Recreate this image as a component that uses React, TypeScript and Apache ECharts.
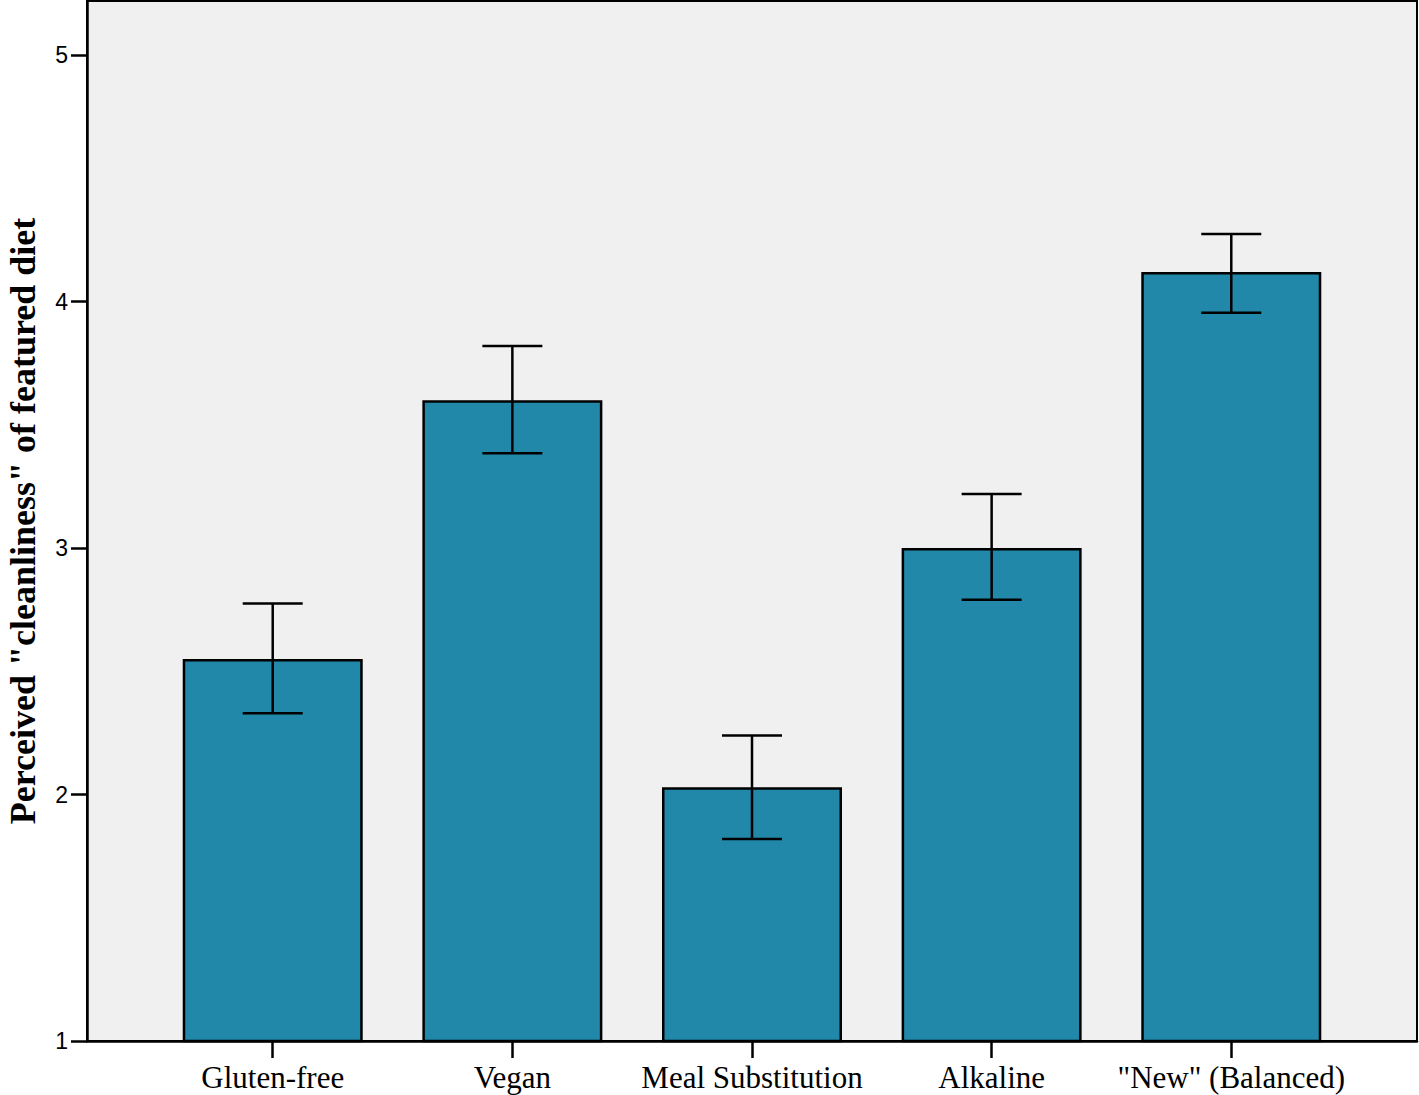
import React, { useEffect, useRef } from "react";
import * as echarts from "echarts";

const categories = ["Gluten-free", "Vegan", "Meal Substitution", "Alkaline", "\"New\" (Balanced)"];
const means = [2.55, 3.60, 2.03, 3.00, 4.12];
const upper = [2.775, 3.82, 2.24, 3.22, 4.275];
const lower = [2.33, 3.385, 1.82, 2.79, 3.955];
const yTicks = [1, 2, 3, 4, 5];
const yAxisTitle = "Perceived \"cleanliness\" of featured diet";

export default function App() {
  const ref = useRef<HTMLDivElement>(null);
  useEffect(() => {
    if (!ref.current) return;
    const chart = echarts.init(ref.current, null, { renderer: "svg" });
    const xPos = categories.map((_, i) => i + 1);
    const barData = means.map((v, i) => [xPos[i], v]);
    const errData = means.map((_, i) => [xPos[i], lower[i], upper[i]]);
    chart.setOption({
      animation: false,
      backgroundColor: "#ffffff",
      grid: {
        left: 87,
        right: 2,
        top: 1,
        bottom: 54,
        containLabel: false,
        outerBoundsMode: "none",
        show: true,
        backgroundColor: "#f0f0f0",
        borderColor: "#000000",
        borderWidth: 2,
      },
      xAxis: {
        type: "value",
        min: 0.225,
        max: 5.775,
        splitLine: { show: false },
        axisLine: { show: true, onZero: false, lineStyle: { color: "#000", width: 2.5 } },
        axisTick: { show: true, customValues: xPos, length: 17, lineStyle: { color: "#000", width: 2.5 } },
        axisLabel: {
          customValues: xPos,
          formatter: (v: number) => categories[Math.round(v) - 1] ?? "",
          fontFamily: "Liberation Serif",
          fontSize: 31,
          color: "#000",
          margin: 21,
        },
      },
      yAxis: {
        type: "value",
        min: 1,
        max: 5.22,
        splitLine: { show: false },
        axisLine: { show: true, lineStyle: { color: "#000", width: 2.5 } },
        axisTick: { show: true, customValues: yTicks, length: 16, lineStyle: { color: "#000", width: 2.5 } },
        axisLabel: {
          customValues: yTicks,
          fontFamily: "Liberation Sans",
          fontSize: 23,
          color: "#000",
          margin: 19,
        },
        name: yAxisTitle,
        nameLocation: "middle",
        nameGap: 46,
        nameTextStyle: {
          fontFamily: "Liberation Serif",
          fontWeight: "bold",
          fontSize: 36,
          lineHeight: 36,
          color: "#000",
        },
      },
      series: [
        {
          type: "bar",
          data: barData,
          barWidth: 180,
          itemStyle: { color: "#2188aa", borderColor: "#000", borderWidth: 2.5 },
        },
        {
          type: "custom",
          data: errData,
          encode: { x: 0, y: [1, 2] },
          z: 10,
          renderItem: (params: any, api: any) => {
            const x = api.value(0);
            const lo = api.coord([x, api.value(1)]);
            const hi = api.coord([x, api.value(2)]);
            const half = 30;
            const style = { stroke: "#000", lineWidth: 2.5 };
            return {
              type: "group",
              children: [
                { type: "line", shape: { x1: lo[0], y1: lo[1], x2: hi[0], y2: hi[1] }, style },
                { type: "line", shape: { x1: hi[0] - half, y1: hi[1], x2: hi[0] + half, y2: hi[1] }, style },
                { type: "line", shape: { x1: lo[0] - half, y1: lo[1], x2: lo[0] + half, y2: lo[1] }, style },
              ],
            };
          },
        },
      ],
    });
    return () => chart.dispose();
  }, []);
  return (
    <div
      ref={ref}
      style={{ position: "absolute", left: 0, top: 0, width: 1419, height: 1095 }}
    />
  );
}
